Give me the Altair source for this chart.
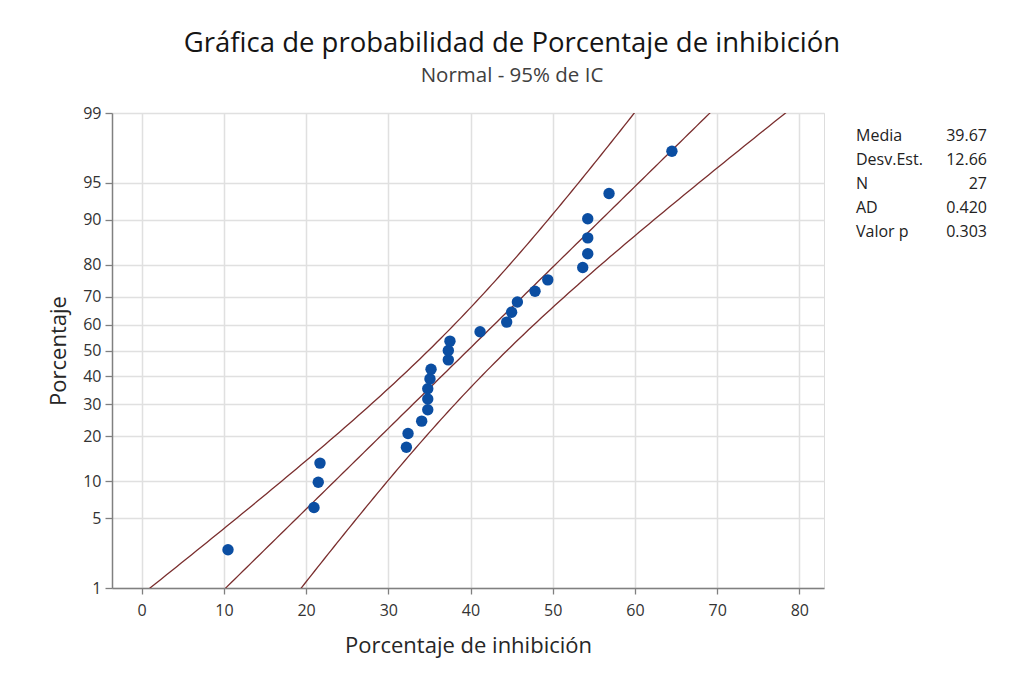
import altair as alt
import pandas as pd
from statistics import NormalDist

# Data
inhibicion = [10.5, 20.96, 21.48, 21.69, 32.2, 32.4, 34.06, 34.8, 34.8, 34.8,
              35.07, 35.2, 37.3, 37.3, 37.5, 41.16, 44.4, 45.0, 45.7, 47.85,
              49.4, 53.65, 54.26, 54.26, 54.26, 56.85, 64.5]
porcentaje = [2.55, 6.20, 9.85, 13.50, 17.15, 20.80, 24.45, 28.10, 31.75, 35.40,
              39.05, 42.70, 46.35, 50.00, 53.65, 57.30, 60.95, 64.60, 68.25, 71.90,
              75.55, 79.20, 82.85, 86.50, 90.15, 93.80, 97.45]
y_tick_pct = [1, 5, 10, 20, 30, 40, 50, 60, 70, 80, 90, 95, 99]
x_ticks = [0, 10, 20, 30, 40, 50, 60, 70, 80]
media = 39.67
desv = 12.66
n_obs = 27
stat_names = ["Media", "Desv.Est.", "N", "AD", "Valor p"]
stat_values = ["39.67", "12.66", "27", "0.420", "0.303"]

nd = NormalDist()
tick_z = [nd.inv_cdf(p / 100) for p in y_tick_pct]
y_dom = [tick_z[0], tick_z[-1]]
x_dom = [-3.61, 83.0]

FONT = "Open Sans"
LINE_COLOR = "#7A2E2E"
PT_COLOR = "#0B4EA2"

x_axis = alt.Axis(values=x_ticks, grid=True, gridColor="#E0E0E0", gridWidth=1.5,
                  domainColor="#808080", domainWidth=1.5, tickColor="#808080",
                  tickSize=6, tickWidth=1.3, labelFontSize=16, labelColor="#333333",
                  labelFont=FONT, labelPadding=8, labelFlush=False,
                  title="Porcentaje de inhibición", titleFont=FONT, titleFontSize=22,
                  titleFontWeight="normal", titleColor="#262626", titlePadding=17)
y_axis = alt.Axis(values=tick_z, labelExpr="round(cumulativeNormal(datum.value)*100)",
                  grid=True, gridColor="#E0E0E0", gridWidth=1.5,
                  domainColor="#808080", domainWidth=1.5, tickColor="#808080",
                  tickSize=7, tickWidth=1.3, labelFontSize=16, labelColor="#333333",
                  labelFont=FONT, labelPadding=4, labelFlush=False, labelOverlap=False,
                  title="Porcentaje", titleFont=FONT, titleFontSize=22,
                  titleFontWeight="normal", titleColor="#262626", titlePadding=12)

x_enc_scale = alt.Scale(domain=x_dom, nice=False, zero=False)
y_enc_scale = alt.Scale(domain=y_dom, nice=False, zero=False)

df = pd.DataFrame({"x": inhibicion, "p": porcentaje})

se = f"1.96*sqrt({desv}*{desv}/{n_obs}*(1+datum.z*datum.z/2))"
lines = (
    alt.Chart(alt.sequence(-3.2, 3.21, 0.04, as_="z"))
    .transform_calculate(
        ajuste=f"{media}+datum.z*{desv}",
        inferior=f"{media}+datum.z*{desv}-{se}",
        superior=f"{media}+datum.z*{desv}+{se}",
    )
    .transform_fold(["inferior", "ajuste", "superior"], as_=["linea", "xv"])
    .mark_line(clip=True, color=LINE_COLOR, strokeWidth=1.3)
    .encode(
        x=alt.X("xv:Q", scale=x_enc_scale, axis=x_axis),
        y=alt.Y("z:Q", scale=y_enc_scale, axis=y_axis),
        detail="linea:N",
        order="z:Q",
    )
)

points = (
    alt.Chart(df)
    .transform_calculate(z="quantileNormal(datum.p/100)")
    .mark_circle(size=130, color=PT_COLOR, opacity=1)
    .encode(
        x=alt.X("x:Q", scale=x_enc_scale, axis=x_axis),
        y=alt.Y("z:Q", scale=y_enc_scale, axis=y_axis),
    )
)

stats_lbl = alt.Chart().mark_text(
    align="left", baseline="alphabetic", font=FONT, fontSize=16,
    color="#222222", lineHeight=24.2
).encode(x=alt.value(744), y=alt.value(27.5), text=alt.value(stat_names))

stats_val = alt.Chart().mark_text(
    align="right", baseline="alphabetic", font=FONT, fontSize=16,
    color="#222222", lineHeight=24.2
).encode(x=alt.value(875), y=alt.value(27.5), text=alt.value(stat_values))

chart = (
    alt.layer(lines, points, stats_lbl, stats_val)
    .properties(
        width=712,
        height=475,
        autosize=alt.AutoSizeParams(type="none"),
        padding={"left": 104, "top": 105, "right": 177, "bottom": 81},
        title=alt.TitleParams(
            text="Gráfica de probabilidad de Porcentaje de inhibición",
            subtitle="Normal - 95% de IC",
            anchor="middle", dx=44, offset=19,
            font=FONT, fontSize=27.5, fontWeight="normal", color="#151515",
            subtitleFont=FONT, subtitleFontSize=20.5, subtitleColor="#404040",
            subtitlePadding=8,
        ),
    )
    .configure_view(stroke="#808080", strokeWidth=1.5)
    .configure(background="white")
)

chart.save("out.html", embed_options={"renderer": "svg", "actions": False})
